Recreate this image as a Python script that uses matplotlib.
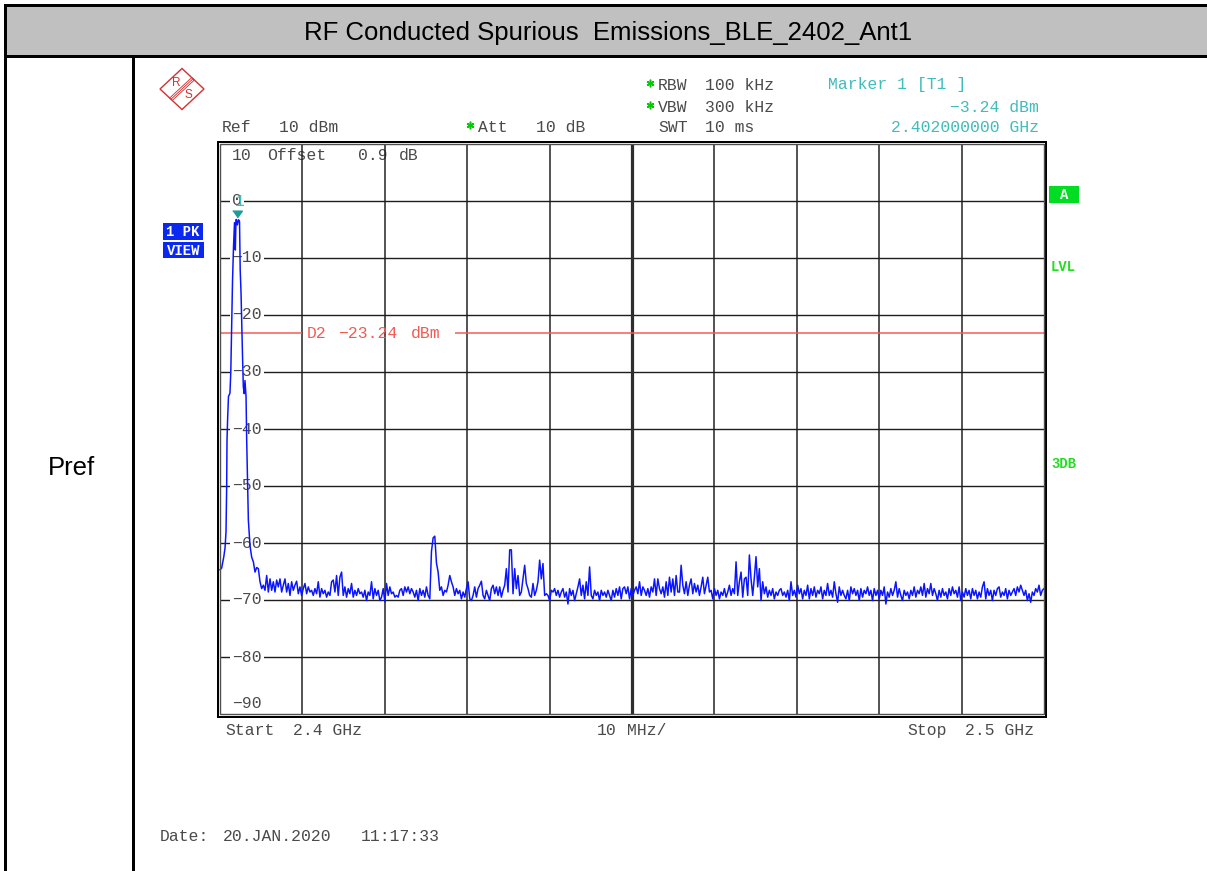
import matplotlib
matplotlib.use("Agg")
import matplotlib.pyplot as plt
import matplotlib.transforms as mtransforms
from matplotlib.patches import Polygon, Rectangle
import numpy as np

W, H = 1207, 871
PT = 0.72  # points per pixel at 100 dpi

TITLE = "RF Conducted Spurious  Emissions_BLE_2402_Ant1"
ROW_LABEL = "Pref"

# sweep settings
START_MHZ = 2400.0
STOP_MHZ = 2500.0
DIV_MHZ = 10.0
REF_DBM = 10.0
BOTTOM_DBM = -90.0
LEVEL_TICKS = [0, -10, -20, -30, -40, -50, -60, -70, -80]
MARKER_MHZ = 2402.0
MARKER_DBM = -3.24
D2_DBM = -23.24

# carrier lobe around 2402 MHz
lobe_mhz = [2400.00, 2400.20, 2400.45, 2400.61, 2400.73, 2400.81, 2400.85, 2400.93,
            2401.03, 2401.21, 2401.31, 2401.42, 2401.52, 2401.64, 2401.76, 2401.86,
            2401.94, 2402.00, 2402.10, 2402.25, 2402.37, 2402.45, 2402.55, 2402.63,
            2402.73, 2402.83, 2402.94, 2403.03, 2403.16]
lobe_dbm = [-64.7, -64.4, -62.5, -60.9, -58.0, -50.0, -42.0, -38.0,
            -34.3, -33.7, -30.0, -22.0, -14.0, -8.0, -3.8, -8.6,
            -3.3, -3.24, -4.2, -3.3, -3.6, -12.0, -16.0, -21.0,
            -27.0, -32.6, -33.8, -31.5, -34.3]

# rest of the sweep, evenly spaced points from FLOOR_START_MHZ to STOP_MHZ
FLOOR_START_MHZ = 2403.24
floor_a = [-42.0, -56.0, -60.5, -62.5, -63.3, -65.1, -64.3, -64.5, -66.8, -68.0,
           -67.4, -68.3, -65.7, -68.6, -66.3, -68.3, -66.8, -68.6, -66.5, -67.7,
           -66.3, -68.6, -67.4, -66.3, -68.6, -67.1, -69.2, -66.8, -68.3, -67.4,
           -66.7, -68.9, -67.7, -69.2, -68.0, -67.1, -68.9, -67.7, -68.6, -68.3,
           -69.2, -68.0, -68.9, -66.8, -69.5, -68.0, -68.9, -68.3, -69.5, -68.6,
           -69.2, -66.8, -66.5, -68.6, -65.7, -69.2, -66.0, -65.1, -69.2, -67.7,
           -69.5, -68.0, -68.9, -67.1, -69.5, -68.3, -69.2, -68.0, -68.9, -68.6,
           -69.5, -68.3, -70.1, -68.6, -69.2, -66.8, -69.8, -68.0, -69.2, -68.3,
           -70.1, -69.5, -68.0, -70.3, -67.1, -69.2, -67.7, -68.9, -68.6, -69.5,
           -69.2, -69.5, -68.3, -68.0, -69.2, -67.7, -68.6, -67.7, -68.9, -68.0,
           -68.6, -69.5, -68.3, -70.1, -68.0, -69.2, -68.3, -69.5, -67.7, -69.2,
           -69.8, -61.5, -59.1, -58.8, -63.5, -65.1, -68.3, -67.7, -69.2, -68.3]
floor_b = [-68.6, -67.4, -65.7, -66.8, -67.7, -69.2, -68.0, -68.9, -68.3, -69.8,
           -68.6, -69.5, -68.0, -66.8, -69.8, -70.1, -69.2, -67.7, -69.5, -68.0,
           -67.4, -66.7, -69.2, -69.8, -68.3, -69.2, -70.1, -68.0, -67.4, -68.9,
           -67.7, -69.2, -67.7, -69.5, -68.3, -67.4, -64.5, -68.6, -61.2, -61.2,
           -68.9, -64.5, -68.0, -65.7, -69.2, -68.6, -66.3, -63.9, -67.1, -68.0,
           -69.2, -69.5, -67.1, -69.2, -68.3, -66.8, -63.0, -66.3, -63.6, -69.2,
           -68.9, -69.2, -70.1, -68.3, -68.6, -68.0, -69.2, -68.3, -69.5, -68.6,
           -68.0, -69.5, -68.6, -70.7, -68.0, -69.2, -68.3, -70.1, -68.9, -67.7,
           -66.3, -69.2, -67.4, -69.8, -66.8, -69.2, -64.2, -69.2, -69.8, -68.3,
           -69.2, -68.6, -70.1, -68.3, -69.2, -68.6, -69.5, -68.3, -69.2, -70.1,
           -68.3, -69.5, -68.0, -69.2, -67.7, -69.8, -68.0, -67.7, -68.9, -67.7,
           -69.8, -68.0, -69.2, -68.3, -67.7, -68.9, -66.8, -69.2, -67.7, -68.3]
floor_c = [-69.2, -68.0, -69.5, -67.7, -68.6, -66.3, -69.2, -66.3, -68.0, -68.9,
           -67.7, -69.5, -66.8, -69.2, -66.0, -68.6, -66.3, -69.2, -65.7, -68.6,
           -68.6, -63.9, -67.4, -68.9, -66.8, -69.2, -67.4, -66.3, -68.9, -67.1,
           -68.6, -67.4, -69.2, -67.7, -66.0, -68.9, -67.4, -66.0, -68.6, -68.3,
           -69.8, -68.0, -69.2, -68.3, -69.8, -68.6, -69.2, -68.0, -69.5, -68.6,
           -67.4, -69.2, -68.0, -68.9, -63.3, -69.2, -66.8, -65.1, -69.5, -66.3,
           -66.0, -69.2, -62.1, -66.3, -69.2, -66.0, -62.4, -67.7, -64.5, -70.1,
           -66.8, -68.9, -67.7, -69.5, -68.3, -69.2, -68.0, -69.8, -68.6, -69.2,
           -68.3, -68.0, -69.2, -68.6, -69.5, -68.3, -70.1, -66.8, -69.2, -68.3,
           -69.5, -67.4, -68.9, -68.0, -69.8, -68.3, -69.2, -67.4, -69.8, -68.0,
           -69.2, -67.7, -69.5, -68.3, -68.9, -67.7, -69.8, -68.3, -69.2, -67.1,
           -69.2, -68.3, -69.5, -66.8, -68.9, -70.4, -67.7, -69.2, -68.3, -69.2]
floor_d = [-69.8, -68.3, -70.1, -67.7, -68.9, -68.0, -69.2, -68.3, -70.1, -68.0,
           -69.5, -68.3, -68.9, -67.7, -69.2, -68.3, -70.1, -68.0, -69.2, -68.3,
           -69.8, -68.3, -69.2, -67.7, -70.7, -68.6, -69.5, -68.0, -69.2, -68.3,
           -66.8, -69.5, -68.0, -69.2, -70.1, -68.3, -69.2, -68.6, -69.8, -68.3,
           -69.2, -67.7, -69.5, -68.3, -68.9, -67.7, -69.2, -67.1, -69.5, -68.0,
           -68.9, -67.1, -69.2, -68.0, -68.9, -70.1, -68.3, -69.5, -68.0, -69.2,
           -68.6, -69.8, -68.0, -69.2, -67.7, -68.9, -68.3, -69.5, -67.7, -70.1,
           -68.6, -69.5, -68.0, -69.2, -68.3, -69.8, -68.0, -69.2, -68.3, -69.8,
           -68.6, -69.5, -67.7, -66.8, -69.8, -68.0, -69.2, -68.3, -70.1, -68.3,
           -69.2, -68.0, -67.7, -69.5, -68.6, -69.2, -68.0, -69.8, -68.3, -69.2,
           -68.6, -68.0, -69.2, -67.7, -68.6, -67.4, -68.3, -69.2, -68.3, -70.1,
           -68.9, -70.4, -68.6, -69.2, -68.0, -68.6, -67.4, -69.2, -68.3, -68.0]

MONO = ["Liberation Mono", "DejaVu Sans Mono"]
SANS = ["Liberation Sans", "DejaVu Sans"]
TXT = "#4a4a4a"
TEAL = "#3fbcbc"
RED = "#f45a52"
BLUE_BOX = "#0a28f0"
TRACE = "#0a14ff"
MINUS = "\u2212"


def fmt(v):
    return f"{v:g}".replace("-", MINUS)


fig = plt.figure(figsize=(W / 100, H / 100), dpi=100)
bg = fig.add_axes([0, 0, 1, 1])
bg.set_xlim(0, W)
bg.set_ylim(H, 0)
bg.axis("off")


def scr(x, y, s, color=TXT, size=11.8, **kw):
    bg.text(x, y, s, family=MONO, fontsize=size, color=color, va="baseline", **kw)


# ---- table frame ----
bg.add_patch(Rectangle((5, 5), W, 51, facecolor="#c0c0c0", edgecolor="none"))
for xs, ys in [([5, W + 5], [5, 5]), ([5, W + 5], [56, 56]), ([5, 5], [5, H + 5]),
               ([133, 133], [56, H + 5])]:
    bg.plot(xs, ys, color="black", lw=3 * PT, solid_capstyle="projecting")
bg.text(608.5, 40, TITLE, family=SANS, fontsize=18.5, ha="center", va="baseline", color="black")
bg.text(72, 475, ROW_LABEL, family=SANS, fontsize=18.5, ha="center", va="baseline", color="black")

# ---- R&S logo ----
bg.add_patch(Polygon([(182, 68.5), (204, 89), (182, 109.5), (160, 89)], closed=True,
                     fill=False, edgecolor="#d23232", lw=1.4 * PT))
for d in (-1.8, 0, 1.8):
    bg.plot([193 + d * 0.73, 171 + d * 0.73], [78.8 + d * 0.68, 99.2 + d * 0.68],
            color="#d23232", lw=0.9 * PT)
bg.text(176.3, 83, "R", family=SANS, fontsize=8.5, color="#d23232", ha="center", va="center")
bg.text(188, 95, "S", family=SANS, fontsize=8.5, color="#d23232", ha="center", va="center")

# ---- header readouts ----
scr(222, 131.5, "Ref")
scr(279, 131.5, "10 dBm")
scr(478, 131.5, "Att")
scr(536, 131.5, "10 dB")
scr(658, 89.5, "RBW")
scr(705, 89.5, "100 kHz")
scr(658, 111.5, "VBW")
scr(705, 111.5, "300 kHz")
scr(658, 131.5, "SWT")
scr(705, 131.5, "10 ms")
bg.plot([650, 650, 470], [83, 105, 125], linestyle="none", marker=(6, 2, 0),
        markersize=5.5, markeredgewidth=1.1, color="#00cc00")
scr(828, 89.5, "Marker 1 [T1 ]", color=TEAL)
scr(1039, 111.5, f"{fmt(MARKER_DBM)} dBm", color=TEAL, ha="right")
scr(1039, 131.5, f"{MARKER_MHZ / 1000:.9f} GHz", color=TEAL, ha="right")

scr(232, 160.5, fmt(REF_DBM))
scr(267, 160.5, "Offset")
scr(358, 160.5, "0.9")
scr(399, 160.5, "dB")
scr(232, 707.5, fmt(BOTTOM_DBM))

scr(225, 735, "Start")
scr(293, 735, f"{START_MHZ / 1000:g} GHz")
scr(597, 735, f"{DIV_MHZ:g}")
scr(627, 735, "MHz/")
scr(907, 735, "Stop")
scr(965, 735, f"{STOP_MHZ / 1000:g} GHz")
scr(160, 840.5, "Date:")
scr(223, 840.5, "20.JAN.2020")
scr(361, 840.5, "11:17:33")

# trace mode labels and side annotations
bg.add_patch(Rectangle((163, 223), 40, 17, facecolor=BLUE_BOX, edgecolor="none"))
bg.add_patch(Rectangle((163, 242), 41, 16, facecolor=BLUE_BOX, edgecolor="none"))
scr(183, 235.5, "1 PK", color="white", size=10, ha="center", weight="bold")
scr(183.5, 254.5, "VIEW", color="white", size=10, ha="center", weight="bold")
bg.add_patch(Rectangle((1049, 186), 30, 17, facecolor="#00dd22", edgecolor="none"))
scr(1064, 198.5, "A", color="white", size=10, ha="center", weight="bold")
scr(1051, 270.7, "LVL", color="#22dd22", size=10, weight="bold")
scr(1051, 468.3, "3DB", color="#22dd22", size=10, weight="bold")

# ---- screen ----
X0, X1, Y0, Y1 = 220, 1044, 144, 714
ax = fig.add_axes([X0 / W, 1 - Y1 / H, (X1 - X0) / W, (Y1 - Y0) / H])
ax.set_xlim(START_MHZ, STOP_MHZ)
ax.set_ylim(BOTTOM_DBM, REF_DBM)
ax.axis("off")

for v in LEVEL_TICKS:
    ax.axhline(v, color="#1e1e1e", lw=1.4 * PT, zorder=1)
centre = (START_MHZ + STOP_MHZ) / 2
for f in np.arange(START_MHZ + DIV_MHZ, STOP_MHZ, DIV_MHZ):
    if abs(f - centre) < 1e-6:
        ax.axvline(f, color="#2e2e2e", lw=3.2 * PT, zorder=1)
    else:
        ax.axvline(f, color="#1e1e1e", lw=1.5 * PT, zorder=1)

ax.add_patch(Rectangle((0, 0), 1, 1, transform=ax.transAxes, fill=False,
                       edgecolor="#505050", lw=1.4 * PT, clip_on=False, zorder=6))
bg.add_patch(Rectangle((217.8, 141.8), 828.4, 575, fill=False, edgecolor="black",
                       lw=2 * PT, zorder=3))

# level labels sit on the grid lines, cutting them
lab_tr = mtransforms.offset_copy(
    mtransforms.blended_transform_factory(bg.transData, ax.transData),
    fig=fig, x=0, y=-4.5, units="dots")
for v in LEVEL_TICKS:
    ax.text(232, v, fmt(v), transform=lab_tr, family=MONO, fontsize=11.8, color=TXT,
            va="baseline", ha="left", zorder=2,
            bbox=dict(boxstyle="square,pad=0.12", facecolor="white", edgecolor="none"))

# display line D2
D2_GAP = (2410.0, 2428.5)
ax.hlines([D2_DBM, D2_DBM], [START_MHZ, D2_GAP[1]], [D2_GAP[0], STOP_MHZ], color=RED,
          lw=1.5 * PT, zorder=3)
ax.text(306.7, D2_DBM, "D2", transform=lab_tr, family=MONO, fontsize=11.8, color=RED,
        va="baseline", zorder=3)
ax.text(338, D2_DBM, fmt(D2_DBM), transform=lab_tr, family=MONO, fontsize=11.8,
        color=RED, va="baseline", zorder=3)
ax.text(411, D2_DBM, "dBm", transform=lab_tr, family=MONO, fontsize=11.8, color=RED,
        va="baseline", zorder=3)

# trace
floor_dbm = floor_a + floor_b + floor_c + floor_d
floor_mhz = np.linspace(FLOOR_START_MHZ, STOP_MHZ, len(floor_dbm))
trace_mhz = np.concatenate([lobe_mhz, floor_mhz])
trace_dbm = np.concatenate([lobe_dbm, floor_dbm])
ax.plot(trace_mhz, trace_dbm, color=TRACE, lw=1.5 * PT, zorder=4, clip_on=False)

# marker 1
tri = [(-1, 0.7), (1, 0.7), (0, -0.7)]
ax.plot([MARKER_MHZ], [MARKER_DBM], linestyle="none", marker=tri, markersize=9.6 * PT,
        color="#1c9c94", zorder=5,
        transform=mtransforms.offset_copy(ax.transData, fig=fig, x=1, y=5.5, units="dots"))
ax.text(MARKER_MHZ, MARKER_DBM, "1", family=MONO, fontsize=11.8, color=TEAL,
        ha="center", va="baseline", zorder=5,
        transform=mtransforms.offset_copy(ax.transData, fig=fig, x=3, y=13.5, units="dots"))

fig.savefig("out.png", dpi=100)
